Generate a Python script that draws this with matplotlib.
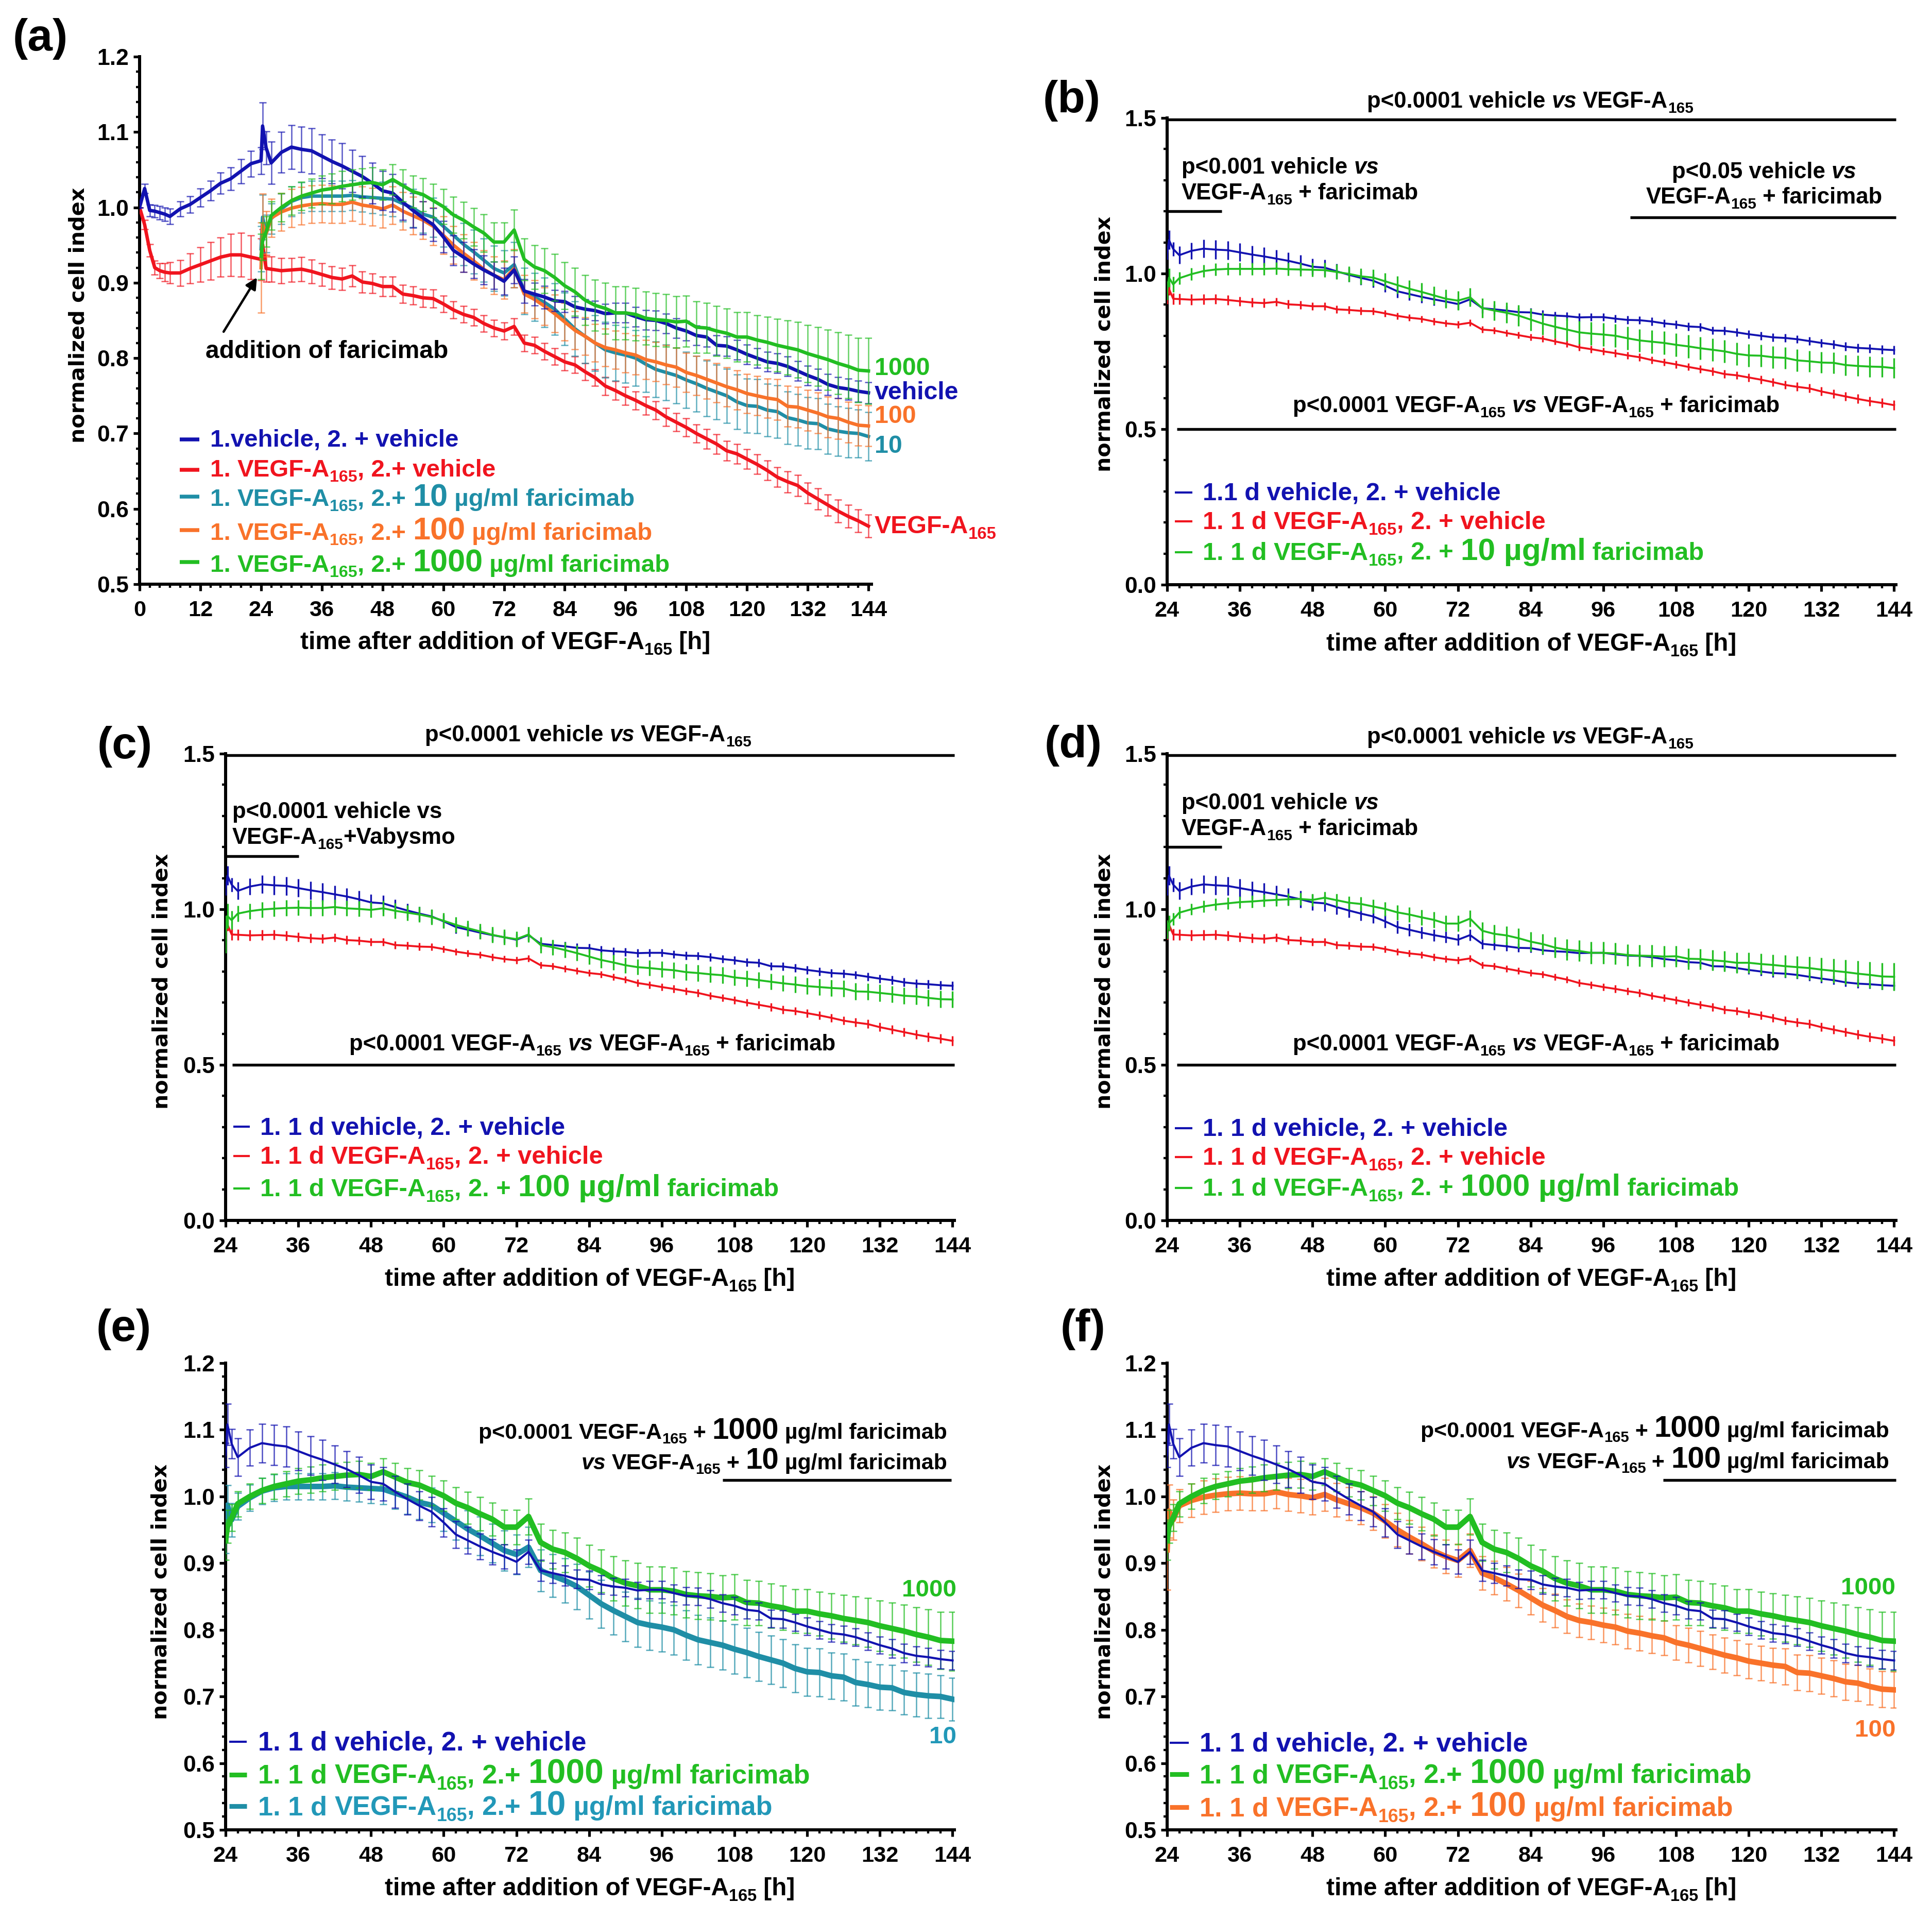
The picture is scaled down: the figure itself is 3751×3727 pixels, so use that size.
import numpy as np
import matplotlib
matplotlib.use('Agg')
import matplotlib.pyplot as plt
from matplotlib.lines import Line2D
from matplotlib.ticker import MultipleLocator, FormatStrFormatter, FixedLocator
from matplotlib.colors import to_rgba
from matplotlib import font_manager

W, H, DPI = 3751, 3727, 300
_names = {f.name for f in font_manager.fontManager.ttflist}
FAM = 'Liberation Sans' if 'Liberation Sans' in _names else 'DejaVu Sans'
plt.rcParams['font.family'] = [FAM, 'DejaVu Sans']
plt.rcParams['font.weight'] = 'bold'

# ------------------------------------------------------------------ data
# time points [h] before and after the second addition (24 h)
t_pre = [0, 1, 2, 3, 4, 5, 6, 8, 10, 12, 14, 16, 18, 20, 22]
t_post = [24, 24.3, 25] + list(range(26, 145, 2))

# 1. vehicle, 2. + vehicle
blue_pre = [1.000, 1.025, 0.996, 0.995, 0.993, 0.991, 0.988, 0.998, 1.004, 1.013,
            1.022, 1.032, 1.038, 1.048, 1.058]
blue_post = [1.062, 1.108, 1.079,
             1.059, 1.073, 1.080, 1.077, 1.075, 1.068, 1.061, 1.055, 1.048, 1.041,
             1.032, 1.022, 1.019, 1.007, 0.996, 0.986, 0.977, 0.961,
             0.943, 0.934, 0.925, 0.917, 0.910, 0.902, 0.917,
             0.889, 0.885, 0.881, 0.876, 0.875, 0.868, 0.865, 0.863, 0.859, 0.860,
             0.860, 0.855, 0.851, 0.850, 0.846, 0.840, 0.836, 0.830, 0.828, 0.817,
             0.816, 0.811, 0.805, 0.800, 0.795, 0.793, 0.789, 0.783, 0.777, 0.772,
             0.765, 0.761, 0.759, 0.756, 0.754]
blue_sd_pre = [0.000, 0.006, 0.008, 0.008, 0.009, 0.009, 0.010, 0.010, 0.011, 0.012,
               0.013, 0.014, 0.015, 0.016, 0.017]
blue_sd_post = [0.018, 0.031, 0.022,
                0.028, 0.027, 0.029, 0.030, 0.030, 0.029, 0.029, 0.030, 0.028, 0.027,
                0.027, 0.026, 0.025, 0.024, 0.023, 0.022, 0.022, 0.021,
                0.020, 0.020, 0.019, 0.019, 0.018, 0.018, 0.018,
                0.016, 0.015, 0.015, 0.014, 0.014, 0.014, 0.013, 0.013, 0.013, 0.013,
                0.013, 0.013, 0.013, 0.013, 0.013, 0.013, 0.013, 0.013, 0.013, 0.013,
                0.013, 0.013, 0.013, 0.013, 0.013, 0.013, 0.013, 0.013, 0.013, 0.014,
                0.014, 0.014, 0.014, 0.014, 0.014]

# 1. VEGF-A165, 2. + vehicle
red_pre = [1.000, 0.977, 0.943, 0.920, 0.916, 0.914, 0.913, 0.913, 0.919, 0.924,
           0.929, 0.934, 0.937, 0.937, 0.934]
red_post = [0.931, 0.951, 0.919,
            0.918, 0.916, 0.917, 0.918, 0.915, 0.911, 0.907, 0.905, 0.909, 0.901,
            0.899, 0.895, 0.895, 0.885, 0.883, 0.880, 0.879, 0.872,
            0.864, 0.858, 0.854, 0.846, 0.840, 0.836, 0.842,
            0.820, 0.817, 0.809, 0.802, 0.795, 0.791, 0.782, 0.774, 0.763, 0.757,
            0.750, 0.744, 0.737, 0.731, 0.722, 0.715, 0.708, 0.700, 0.693, 0.686,
            0.677, 0.673, 0.666, 0.659, 0.651, 0.642, 0.636, 0.631, 0.621, 0.613,
            0.605, 0.597, 0.590, 0.584, 0.577]
red_sd_pre = [0.000, 0.006, 0.008, 0.009, 0.010, 0.012, 0.014, 0.017, 0.020, 0.023,
              0.025, 0.026, 0.028, 0.029, 0.029]
red_sd_post = [0.028, 0.020, 0.018,
               0.017, 0.017, 0.016, 0.016, 0.016, 0.015, 0.015, 0.015, 0.014, 0.014,
               0.013, 0.013, 0.013, 0.012, 0.012, 0.012, 0.012, 0.011,
               0.011, 0.011, 0.011, 0.011, 0.011, 0.011, 0.011,
               0.011, 0.011, 0.011, 0.011, 0.011, 0.011, 0.011, 0.011, 0.012, 0.012,
               0.012, 0.012, 0.012, 0.012, 0.012, 0.012, 0.012, 0.012, 0.013, 0.013,
               0.013, 0.013, 0.013, 0.013, 0.013, 0.013, 0.014, 0.014, 0.014, 0.014,
               0.014, 0.015, 0.015, 0.015, 0.015]

# 1. VEGF-A165, 2. + 10 ug/ml faricimab
f10_post = [0.945, 0.987, 0.965,
            0.985, 0.998, 1.008, 1.013, 1.015, 1.015, 1.015, 1.015, 1.016, 1.014,
            1.013, 1.012, 1.011, 1.005, 0.999, 0.991, 0.987, 0.975,
            0.963, 0.951, 0.941, 0.930, 0.919, 0.913, 0.924,
            0.889, 0.881, 0.874, 0.865, 0.852, 0.839, 0.829, 0.820, 0.811, 0.807,
            0.804, 0.800, 0.792, 0.785, 0.781, 0.777, 0.771, 0.766, 0.760, 0.755,
            0.750, 0.742, 0.737, 0.736, 0.731, 0.729, 0.721, 0.718, 0.714, 0.713,
            0.706, 0.703, 0.701, 0.700, 0.696]
f10_sd = [0.030, 0.030, 0.025,
          0.020, 0.020, 0.020, 0.020, 0.020, 0.020, 0.020, 0.020, 0.020, 0.020,
          0.021, 0.022, 0.023, 0.024, 0.025, 0.025, 0.026, 0.027,
          0.028, 0.028, 0.029, 0.029, 0.030, 0.030, 0.030,
          0.031, 0.032, 0.033, 0.034, 0.035, 0.036, 0.036, 0.037, 0.037, 0.037,
          0.037, 0.037, 0.037, 0.037, 0.037, 0.037, 0.037, 0.037, 0.037, 0.036,
          0.036, 0.036, 0.036, 0.036, 0.035, 0.035, 0.035, 0.034, 0.034, 0.034,
          0.033, 0.033, 0.033, 0.032, 0.032]

# 1. VEGF-A165, 2. + 100 ug/ml faricimab
f100_post = [0.920, 0.978, 0.965,
             0.986, 0.994, 0.999, 1.002, 1.004, 1.005, 1.004, 1.004, 1.007, 1.003,
             1.001, 0.998, 1.003, 0.995, 0.989, 0.983, 0.975, 0.963,
             0.950, 0.939, 0.929, 0.918, 0.910, 0.904, 0.919,
             0.885, 0.878, 0.869, 0.859, 0.848, 0.837, 0.829, 0.820, 0.814, 0.811,
             0.807, 0.804, 0.798, 0.795, 0.791, 0.788, 0.781, 0.777, 0.772, 0.767,
             0.762, 0.758, 0.753, 0.750, 0.747, 0.745, 0.736, 0.735, 0.731, 0.727,
             0.722, 0.720, 0.715, 0.711, 0.710]
f100_sd = [0.060, 0.040, 0.030,
           0.025, 0.025, 0.025, 0.025, 0.025, 0.025, 0.025, 0.025, 0.025, 0.025,
           0.025, 0.025, 0.025, 0.025, 0.025, 0.025, 0.025, 0.025,
           0.025, 0.025, 0.025, 0.025, 0.025, 0.025, 0.025,
           0.025, 0.025, 0.025, 0.025, 0.025, 0.025, 0.025, 0.025, 0.025, 0.025,
           0.026, 0.026, 0.026, 0.026, 0.026, 0.026, 0.026, 0.026, 0.026, 0.026,
           0.026, 0.026, 0.026, 0.026, 0.026, 0.027, 0.027, 0.027, 0.027, 0.027,
           0.027, 0.027, 0.027, 0.027, 0.027]

# 1. VEGF-A165, 2. + 1000 ug/ml faricimab
f1000_post = [0.935, 0.955, 0.968,
              0.989, 1.000, 1.009, 1.015, 1.019, 1.023, 1.025, 1.028, 1.030, 1.032,
              1.033, 1.030, 1.037, 1.029, 1.021, 1.017, 1.009, 1.001,
              0.990, 0.983, 0.974, 0.966, 0.954, 0.954, 0.970,
              0.931, 0.921, 0.916, 0.907, 0.896, 0.888, 0.877, 0.870, 0.866, 0.860,
              0.860, 0.858, 0.853, 0.851, 0.850, 0.848, 0.849, 0.841, 0.840, 0.836,
              0.833, 0.828, 0.828, 0.824, 0.821, 0.817, 0.814, 0.811, 0.806, 0.802,
              0.798, 0.793, 0.789, 0.784, 0.783]
f1000_sd = [0.030, 0.025, 0.020,
            0.019, 0.019, 0.019, 0.019, 0.019, 0.019, 0.020, 0.020, 0.020, 0.020,
            0.020, 0.020, 0.020, 0.021, 0.021, 0.022, 0.022, 0.023,
            0.024, 0.024, 0.025, 0.025, 0.026, 0.026, 0.027,
            0.028, 0.029, 0.030, 0.031, 0.031, 0.032, 0.033, 0.034, 0.034, 0.035,
            0.035, 0.035, 0.035, 0.035, 0.035, 0.034, 0.034, 0.034, 0.033, 0.033,
            0.033, 0.033, 0.033, 0.033, 0.034, 0.035, 0.036, 0.037, 0.038, 0.039,
            0.040, 0.041, 0.042, 0.043, 0.044]

x_ticks_a = list(range(0, 145, 12))
x_ticks_b = list(range(24, 145, 12))
y_ticks_small = [0.5, 0.6, 0.7, 0.8, 0.9, 1.0, 1.1, 1.2]
y_ticks_big = [0.0, 0.5, 1.0, 1.5]

BLUE = '#1212B0'
RED = '#F0141E'
TEAL = '#1F8EA6'
TEAL_TXT = '#2298B8'
ORANGE = '#F9722A'
GREEN = '#22BE22'

# ------------------------------------------------------------------ helpers
fig = plt.figure(figsize=(W / DPI, H / DPI), dpi=DPI)
R = fig.canvas.get_renderer()


def px_axes(l, r, t, b):
    return fig.add_axes([l / W, 1 - b / H, (r - l) / W, (b - t) / H])


_wcache = {}


def tw(s, size, style):
    key = (size, style)
    if key not in _wcache:
        t0 = fig.text(0, 0, '||', fontsize=size, fontweight='bold', style=style, family=FAM)
        _wcache[key] = t0.get_window_extent(R).width
        t0.remove()
    t = fig.text(0, 0, '|' + s + '|', fontsize=size, fontweight='bold', style=style, family=FAM)
    w = t.get_window_extent(R).width
    t.remove()
    return w - _wcache[key]


def rich(x, y, pieces, color, base, big=None, ha='left'):
    big = big or base * 1.3
    specs = []
    for s, k in pieces:
        if k == 'b':
            size, style, dy = big, 'normal', 0
        elif k == 's':
            size, style, dy = base * 0.68, 'normal', base * 0.22 * DPI / 72
        elif k == 'i':
            size, style, dy = base, 'italic', 0
        else:
            size, style, dy = base, 'normal', 0
        specs.append((s, size, style, dy, tw(s, size, style)))
    total = sum(sp[4] for sp in specs)
    x0 = x - total / 2 if ha == 'center' else (x - total if ha == 'right' else x)
    for s, size, style, dy, w in specs:
        fig.text(x0 / W, 1 - (y + dy) / H, s, fontsize=size, fontweight='bold',
                 style=style, family=FAM, color=color, ha='left', va='baseline')
        x0 += w


def handle(x1, x2, y, color, lw):
    fig.add_artist(Line2D([x1 / W, x2 / W], [1 - y / H, 1 - y / H], color=color, lw=lw,
                          transform=fig.transFigure, solid_capstyle='butt'))


def ylab(x, y):
    fig.text(x / W, 1 - y / H, 'normalized cell index', rotation=90, ha='center',
             va='center', family='DejaVu Sans', fontweight='bold', fontsize=9.9)


def xlab(x, y):
    rich(x, y, [('time after addition of VEGF-A', 'n'), ('165', 's'), (' [h]', 'n')],
         'k', 11.5, ha='center')


def style_ax(ax, xlim, xticks, ylim, yticks, yminor):
    for s in ['top', 'right']:
        ax.spines[s].set_visible(False)
    for s in ['left', 'bottom']:
        ax.spines[s].set_linewidth(1.45)
    ax.set_xlim(*xlim)
    ax.set_ylim(*ylim)
    ax.xaxis.set_major_locator(FixedLocator(xticks))
    ax.xaxis.set_minor_locator(MultipleLocator(2))
    ax.yaxis.set_major_locator(FixedLocator(yticks))
    ax.yaxis.set_minor_locator(MultipleLocator(yminor))
    ax.yaxis.set_major_formatter(FormatStrFormatter('%.1f'))
    ax.tick_params(which='major', length=3.0, width=1.25, direction='out')
    ax.tick_params(which='minor', length=1.6, width=1.05, direction='out')
    ax.tick_params(axis='x', which='major', pad=4.4)
    ax.tick_params(axis='y', which='major', pad=2.0)
    for lab in ax.get_xticklabels():
        lab.set_fontsize(10.4)
        lab.set_fontweight('bold')
        lab.set_family(FAM)
    for lab in ax.get_yticklabels():
        lab.set_fontsize(10.7)
        lab.set_fontweight('bold')
        lab.set_family(FAM)
    ax.patch.set_alpha(0)


def series(ax, t, y, e, color, lw, elw, cap, ealpha, z):
    ax.errorbar(t, y, yerr=e, color=color, lw=lw, elinewidth=elw, capsize=cap,
                capthick=elw, ecolor=to_rgba(color, ealpha), zorder=z)


def sigline(ax, x1, x2, yv):
    ax.plot([x1, x2], [yv, yv], color='k', lw=1.3, clip_on=False, zorder=10,
            solid_capstyle='butt')


t_all = t_pre + t_post
blue_all = blue_pre + blue_post
blue_sd_all = blue_sd_pre + blue_sd_post
red_all = red_pre + red_post
red_sd_all = red_sd_pre + red_sd_post

VEGF = [('VEGF-A', 'n'), ('165', 's')]

# ------------------------------------------------------------------ (a)
axA = px_axes(271, 1692, 110, 1134)
series(axA, t_all, red_all, red_sd_all, RED, 1.6, 0.6, 1.6, 0.7, 3)
series(axA, t_post, f10_post, f10_sd, TEAL, 1.6, 0.6, 1.6, 0.7, 4)
series(axA, t_post, f100_post, f100_sd, ORANGE, 1.6, 0.6, 1.6, 0.7, 5)
series(axA, t_all, blue_all, blue_sd_all, BLUE, 1.6, 0.6, 1.6, 0.7, 6)
series(axA, t_post, f1000_post, f1000_sd, GREEN, 1.6, 0.6, 1.6, 0.7, 7)
style_ax(axA, (0, 144.6), x_ticks_a, (0.5, 1.2), y_ticks_small, 0.02)
axA.annotate('', xy=(23.2, 0.907), xytext=(16.6, 0.835),
             arrowprops=dict(arrowstyle='-|>', color='k', lw=1.1, mutation_scale=11,
                             shrinkA=0, shrinkB=0))
rich(399, 695, [('addition of faricimab', 'n')], 'k', 11.5)
rich(25, 98, [('(a)', 'n')], 'k', 21)
ylab(152, 612)
xlab(981, 1260)

legA = [
    ([('1.vehicle, 2. + vehicle', 'n')], BLUE, 867, 853),
    ([('1. ', 'n')] + VEGF + [(', 2.+ vehicle', 'n')], RED, 925, 912),
    ([('1. ', 'n')] + VEGF + [(', 2.+ ', 'n'), ('10', 'b'), (' µg/ml faricimab', 'n')], TEAL, 982, 964),
    ([('1. ', 'n')] + VEGF + [(', 2.+ ', 'n'), ('100', 'b'), (' µg/ml faricimab', 'n')], ORANGE, 1048, 1029),
    ([('1. ', 'n')] + VEGF + [(', 2.+ ', 'n'), ('1000', 'b'), (' µg/ml faricimab', 'n')], GREEN, 1110, 1091),
]
for pieces, col, yb, yh in legA:
    handle(349, 387, yh, col, 1.8)
    rich(408, yb, pieces, col, 11.4, big=14.7)

rich(1698, 728, [('1000', 'n')], GREEN, 11.6)
rich(1698, 775, [('vehicle', 'n')], BLUE, 11.6)
rich(1698, 821, [('100', 'n')], ORANGE, 11.6)
rich(1698, 879, [('10', 'n')], TEAL, 11.6)
rich(1698, 1035, VEGF, RED, 11.6)


# ------------------------------------------------------------------ (b)(c)(d)
def mid_panel(ax, treat, treat_sd):
    series(ax, t_post, blue_post, blue_sd_post, BLUE, 0.9, 0.8, 0, 1.0, 3)
    series(ax, t_post, red_post, red_sd_post, RED, 0.9, 0.8, 0, 1.0, 4)
    series(ax, t_post, treat, treat_sd, GREEN, 0.9, 0.8, 0, 1.0, 5)
    style_ax(ax, (24, 144.3), x_ticks_b, (0, 1.5), y_ticks_big, 0.1)


def mid_legend(xh1, xh2, xt, ybs, dose, first):
    items = [
        ([(first, 'n')], BLUE),
        ([('1. 1 d ', 'n')] + VEGF + [(', 2. + vehicle', 'n')], RED),
        ([('1. 1 d ', 'n')] + VEGF + [(', 2. + ', 'n'), (dose + ' µg/ml', 'b'), (' faricimab', 'n')], GREEN),
    ]
    for (pieces, col), yb in zip(items, ybs):
        handle(xh1, xh2, yb - 15, col, 1.0)
        rich(xt, yb, pieces, col, 11.7, big=14.5)


BOTTOM_TXT = [('p<0.0001 ', 'n')] + VEGF + [(' ', 'n'), ('vs', 'i'), (' ', 'n')] + VEGF + [(' + faricimab', 'n')]
TOP_TXT = [('p<0.0001 vehicle ', 'n'), ('vs', 'i'), (' ', 'n')] + VEGF

# (b)
axB = px_axes(2266, 3681, 229, 1135)
mid_panel(axB, f10_post, f10_sd)
sigline(axB, 24, 144.3, 1.495)
sigline(axB, 24, 33, 1.2)
sigline(axB, 100.4, 144.3, 1.18)
sigline(axB, 25.6, 144.3, 0.5)
rich(2971, 209, TOP_TXT, 'k', 10.5, ha='center')
rich(2294, 337, [('p<0.001 vehicle ', 'n'), ('vs', 'i')], 'k', 10.5)
rich(2294, 387, VEGF + [(' + faricimab', 'n')], 'k', 10.5)
rich(3425, 346, [('p<0.05 vehicle ', 'n'), ('vs', 'i')], 'k', 10.5, ha='center')
rich(3425, 395, VEGF + [(' + faricimab', 'n')], 'k', 10.5, ha='center')
rich(2983, 800, BOTTOM_TXT, 'k', 10.5, ha='center')
mid_legend(2281, 2315, 2335, [971, 1027, 1087], '10', '1.1 d vehicle, 2. + vehicle')
rich(2025, 218, [('(b)', 'n')], 'k', 21)
ylab(2145, 668)
xlab(2973, 1263)

# (c)
axC = px_axes(438, 1853, 1463, 2369)
mid_panel(axC, f100_post, f100_sd)
sigline(axC, 24, 144.3, 1.495)
sigline(axC, 24, 36.1, 1.17)
sigline(axC, 25.1, 144.3, 0.5)
rich(1142, 1439, TOP_TXT, 'k', 10.5, ha='center')
rich(451, 1588, [('p<0.0001 vehicle vs', 'n')], 'k', 10.5)
rich(451, 1638, VEGF + [('+Vabysmo', 'n')], 'k', 10.5)
rich(1150, 2039, BOTTOM_TXT, 'k', 10.5, ha='center')
mid_legend(453, 485, 505, [2202, 2259, 2322], '100', '1. 1 d vehicle, 2. + vehicle')
rich(189, 1472, [('(c)', 'n')], 'k', 21)
ylab(315, 1905)
xlab(1145, 2496)

# (d)
axD = px_axes(2266, 3681, 1463, 2369)
mid_panel(axD, f1000_post, f1000_sd)
sigline(axD, 24, 144.3, 1.495)
sigline(axD, 24, 33, 1.2)
sigline(axD, 25.6, 144.3, 0.5)
rich(2971, 1443, TOP_TXT, 'k', 10.5, ha='center')
rich(2294, 1571, [('p<0.001 vehicle ', 'n'), ('vs', 'i')], 'k', 10.5)
rich(2294, 1621, VEGF + [(' + faricimab', 'n')], 'k', 10.5)
rich(2983, 2039, BOTTOM_TXT, 'k', 10.5, ha='center')
mid_legend(2281, 2315, 2335, [2205, 2261, 2321], '1000', '1. 1 d vehicle, 2. + vehicle')
rich(2028, 1470, [('(d)', 'n')], 'k', 21)
ylab(2145, 1905)
xlab(2973, 2496)


# ------------------------------------------------------------------ (e)(f)
def low_panel(ax, treat, treat_sd, tcol):
    series(ax, t_post, treat, treat_sd, tcol, 2.6, 0.6, 1.6, 0.75, 3)
    series(ax, t_post, f1000_post, f1000_sd, GREEN, 2.6, 0.6, 1.6, 0.75, 4)
    series(ax, t_post, blue_post, blue_sd_post, BLUE, 1.0, 0.6, 1.6, 0.75, 5)
    style_ax(ax, (24, 144.3), x_ticks_b, (0.5, 1.2), y_ticks_small, 0.02)


def low_legend(xh1, xh2, xt, ybs, dose, dcol, dtxt):
    items = [
        ([('1. 1 d vehicle, 2. + vehicle', 'n')], BLUE, BLUE, 1.0),
        ([('1. 1 d ', 'n')] + VEGF + [(', 2.+ ', 'n'), ('1000', 'b'), (' µg/ml faricimab', 'n')], GREEN, GREEN, 2.2),
        ([('1. 1 d ', 'n')] + VEGF + [(', 2.+ ', 'n'), (dose, 'b'), (' µg/ml faricimab', 'n')], dcol, dtxt, 2.2),
    ]
    for (pieces, col, tcol, lw), yb in zip(items, ybs):
        handle(xh1, xh2, yb - 17, col, lw)
        rich(xt, yb, pieces, tcol, 12.6, big=15.8)


# (e)
axE = px_axes(438, 1853, 2646, 3552)
low_panel(axE, f10_post, f10_sd, TEAL)
sigline(axE, 106, 143.8, 1.025)
rich(1839, 2793, [('p<0.0001 ', 'n')] + VEGF + [(' + ', 'n'), ('1000', 'b'), (' µg/ml faricimab', 'n')],
     'k', 10.3, big=14, ha='right')
rich(1839, 2852, [('vs', 'i'), (' ', 'n')] + VEGF + [(' + ', 'n'), ('10', 'b'), (' µg/ml faricimab', 'n')],
     'k', 10.3, big=14, ha='right')
rich(1857, 3099, [('1000', 'n')], GREEN, 11.4, ha='right')
rich(1857, 3384, [('10', 'n')], TEAL_TXT, 11.4, ha='right')
low_legend(445, 479, 501, [3398, 3462, 3523], '10', TEAL, TEAL_TXT)
rich(187, 2603, [('(e)', 'n')], 'k', 21)
ylab(313, 3090)
xlab(1145, 3679)

# (f)
axF = px_axes(2266, 3681, 2646, 3552)
low_panel(axF, f100_post, f100_sd, ORANGE)
sigline(axF, 105.9, 144.3, 1.025)
rich(3668, 2790, [('p<0.0001 ', 'n')] + VEGF + [(' + ', 'n'), ('1000', 'b'), (' µg/ml faricimab', 'n')],
     'k', 10.3, big=14, ha='right')
rich(3668, 2850, [('vs', 'i'), (' ', 'n')] + VEGF + [(' + ', 'n'), ('100', 'b'), (' µg/ml faricimab', 'n')],
     'k', 10.3, big=14, ha='right')
rich(3680, 3095, [('1000', 'n')], GREEN, 11.4, ha='right')
rich(3680, 3371, [('100', 'n')], ORANGE, 11.4, ha='right')
low_legend(2271, 2308, 2329, [3400, 3461, 3525], '100', ORANGE, ORANGE)
rich(2059, 2603, [('(f)', 'n')], 'k', 21)
ylab(2145, 3090)
xlab(2973, 3679)

fig.savefig('out.png', dpi=DPI, facecolor='white')
